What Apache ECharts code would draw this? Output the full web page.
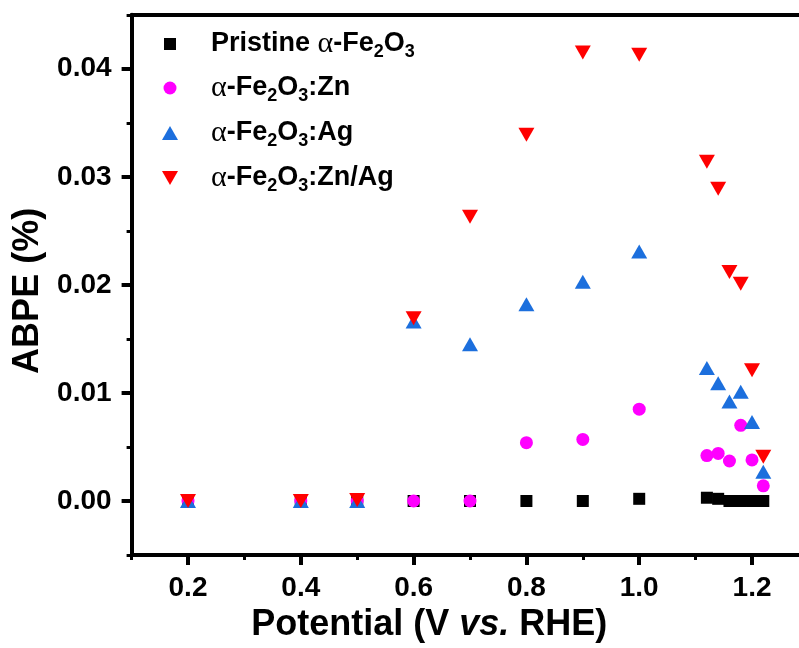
<!DOCTYPE html>
<html>
<head>
<meta charset="utf-8">
<script src="https://cdn.jsdelivr.net/npm/echarts@6/dist/echarts.min.js"></script>
<style>html,body{margin:0;padding:0;background:#fff;}#c{width:799px;height:648px;}</style>
</head>
<body>
<div id="c"></div>
<script>
const potential = [0.2, 0.4, 0.5, 0.6, 0.7, 0.8, 0.9, 1.0, 1.12, 1.14, 1.16, 1.18, 1.2, 1.22];
const pristine  = [0, 0, 0, 0, 0, 0, 0, 0.0002, 0.0003, 0.0002, 0, 0, 0, 0];
const zn        = [0, 0, 0, 0, 0, 0.0054, 0.0057, 0.0085, 0.0042, 0.0044, 0.0037, 0.0070, 0.0038, 0.0014];
const ag        = [0, 0, 0, 0.0166, 0.0145, 0.0182, 0.0203, 0.0231, 0.0123, 0.0109, 0.0092, 0.0101, 0.0073, 0.0027];
const znag      = [0, 0, 0.0001, 0.0169, 0.0263, 0.0339, 0.0415, 0.0413, 0.0314, 0.0289, 0.0212, 0.0201, 0.0121, 0.0041];
const seriesNames = ['Pristine α-Fe2O3', 'α-Fe2O3:Zn', 'α-Fe2O3:Ag', 'α-Fe2O3:Zn/Ag'];
const legendRich = {
  'Pristine α-Fe2O3': '{b|Pristine }{a|α}{b|-Fe}{s|2}{b|O}{s|3}',
  'α-Fe2O3:Zn': '{a|α}{b|-Fe}{s|2}{b|O}{s|3}{b|:Zn}',
  'α-Fe2O3:Ag': '{a|α}{b|-Fe}{s|2}{b|O}{s|3}{b|:Ag}',
  'α-Fe2O3:Zn/Ag': '{a|α}{b|-Fe}{s|2}{b|O}{s|3}{b|:Zn/Ag}'
};
const xMajorTicks = [0.2, 0.4, 0.6, 0.8, 1.0, 1.2];
const xMinorTicks = [0.1, 0.3, 0.5, 0.7, 0.9, 1.1];
const yMajorTicks = [0, 0.01, 0.02, 0.03, 0.04];

const colors = ['#000000', '#ff00ff', '#1c6fdd', '#ff0000'];
const DOWN_TRI = 'path://M0,0L16,0L8,14Z';
const UP_TRI = 'path://M8,0L16,14L0,14Z';
const SQUARE = 'path://M0,0L10,0L10,10L0,10Z';
const symbols = [SQUARE, 'circle', UP_TRI, DOWN_TRI];
const symSizes = [12, 13, [16, 14], [16, 14]];
const legendIcon = [[12, 12], [13, 13], [16, 14], [16, 14]];
const legendCY = [44, 88, 133, 178];

const font = 'Liberation Sans, Arial, sans-serif';
const rich = {
  b: {fontFamily: font, fontWeight: 'bold', fontSize: 27, color: '#000', lineHeight: 34, verticalAlign: 'middle'},
  a: {fontFamily: 'Liberation Serif, serif', fontWeight: 'normal', fontSize: 30, color: '#000', lineHeight: 34, verticalAlign: 'middle'},
  s: {fontFamily: font, fontWeight: 'bold', fontSize: 18, color: '#000', lineHeight: 18, verticalAlign: 'bottom'}
};

const legends = seriesNames.map((n, i) => {
  const w = legendIcon[i][0], h = legendIcon[i][1];
  return {
    show: true,
    padding: 0,
    data: [{name: n, icon: symbols[i] === 'circle' ? 'circle' : symbols[i]}],
    left: 170 - w / 2,
    top: legendCY[i] - 15,
    itemWidth: w,
    itemHeight: h,
    symbolKeepAspect: false,
    selectedMode: false,
    formatter: name => legendRich[name],
    textStyle: {rich: rich, padding: [0, 0, 0, 36 - w / 2]}
  };
});

const X_MIN = 0.1, X_MAX = 1.2833;
const axisLineStyle = {color: '#000', width: 4};
const option = {
  animation: false,
  backgroundColor: '#fff',
  grid: {left: 131.6, top: 14.75, bottom: 90.75, right: 0, containLabel: false},
  legend: legends,
  xAxis: [
    {
      type: 'value', position: 'bottom', min: X_MIN, max: X_MAX,
      axisLine: {show: true, onZero: false, lineStyle: axisLineStyle},
      axisTick: {show: true, customValues: xMinorTicks, length: 5, lineStyle: {color: '#000', width: 3}},
      splitLine: {show: false},
      axisLabel: {
        show: true, customValues: xMajorTicks, margin: 19,
        formatter: v => v.toFixed(1),
        fontFamily: font, fontWeight: 'bold', fontSize: 28, color: '#000'
      },
      name: 'Potential (V {i|vs.} RHE)',
      nameLocation: 'middle',
      nameGap: 52,
      nameTextStyle: {
        fontFamily: font, fontWeight: 'bold', fontSize: 36, color: '#000',
        padding: [0, 72, 0, 0],
        rich: {i: {fontFamily: font, fontWeight: 'bold', fontStyle: 'italic', fontSize: 36, color: '#000'}}
      }
    },
    {
      type: 'value', position: 'bottom', min: X_MIN, max: X_MAX,
      axisLine: {show: false, onZero: false},
      axisTick: {show: true, customValues: xMajorTicks, length: 10, lineStyle: {color: '#000', width: 4}},
      axisLabel: {show: false},
      splitLine: {show: false}
    },
    {
      type: 'value', position: 'top', min: X_MIN, max: X_MAX,
      axisLine: {show: true, onZero: false, lineStyle: axisLineStyle},
      axisTick: {show: false}, axisLabel: {show: false}, splitLine: {show: false}
    }
  ],
  yAxis: [
    {
      type: 'value', position: 'left', min: -0.005, max: 0.045, interval: 0.005,
      axisLine: {show: true, onZero: false, lineStyle: axisLineStyle},
      axisTick: {show: true, length: 5, lineStyle: {color: '#000', width: 3}},
      splitLine: {show: false},
      axisLabel: {
        show: true, customValues: yMajorTicks, margin: 20,
        formatter: v => v.toFixed(2),
        fontFamily: font, fontWeight: 'bold', fontSize: 28, color: '#000'
      },
      name: 'ABPE (%)',
      nameLocation: 'middle',
      nameGap: 80,
      nameTextStyle: {fontFamily: font, fontWeight: 'bold', fontSize: 36, color: '#000', padding: [0, 12, 0, 0]}
    },
    {
      type: 'value', position: 'left', min: -0.005, max: 0.045,
      axisLine: {show: false, onZero: false},
      axisTick: {show: true, customValues: yMajorTicks, length: 10, lineStyle: {color: '#000', width: 4}},
      axisLabel: {show: false},
      splitLine: {show: false}
    }
  ],
  series: [pristine, zn, ag, znag].map((vals, i) => ({
    name: seriesNames[i],
    type: 'scatter',
    xAxisIndex: 0, yAxisIndex: 0,
    symbol: symbols[i],
    symbolSize: symSizes[i],
    symbolKeepAspect: false,
    itemStyle: {color: colors[i], opacity: 1},
    emphasis: {disabled: true},
    z: 2 + i,
    data: potential.map((p, k) => [p, vals[k]])
  }))
};
const chart = echarts.init(document.getElementById('c'), null, {renderer: 'canvas'});
chart.setOption(option);
</script>
</body>
</html>
